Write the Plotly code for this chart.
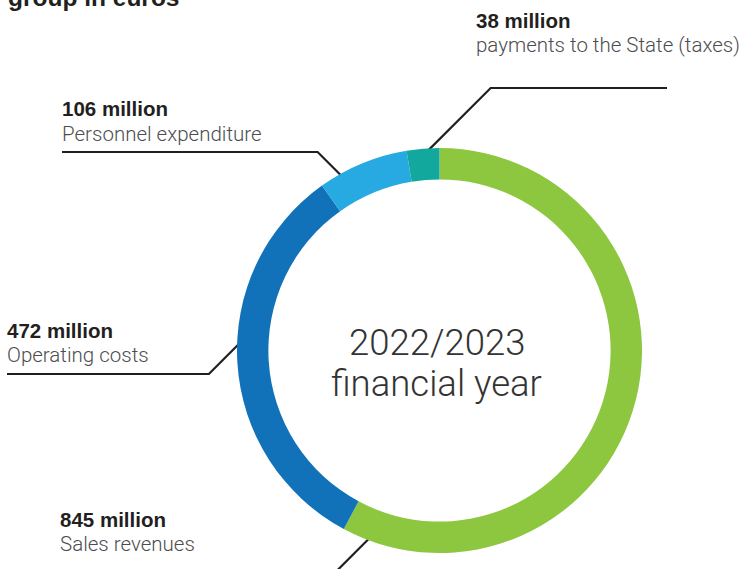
import math
import plotly.graph_objects as go

# Value distribution of the group, 2022/2023 financial year (million euros)
categories = ["Sales revenues", "Operating costs", "Personnel expenditure",
              "payments to the State (taxes)"]
amounts = [845, 472, 106, 38]
amount_labels = ["845 million", "472 million", "106 million", "38 million"]
slice_colors = ["#8DC63F", "#1172BA", "#27AAE1", "#13A89E"]
center_lines = ["2022/2023", "financial year"]
title_text = "group in euros"

# ---- canvas / ring geometry (pixels) ----
W, H = 740, 569
CX, CY, R = 439.5, 350.5, 202.5
HOLE = 0.845
R_ANCHOR = 196          # radius where the leader lines touch the ring

# label blocks: left x, baseline of amount line, baseline of caption line,
# y of the horizontal leader segment and x where that segment ends
label_layout = [
    dict(x=60, base1=527, base2=552, line_y=None, line_x=None, frac=0.96, side=-1),   # sales
    dict(x=7, base1=338, base2=363, line_y=374, line_x=7, frac=0.56, side=-1),        # operating
    dict(x=62, base1=116, base2=142, line_y=152, line_x=62, frac=0.25, side=-1),      # personnel
    dict(x=476, base1=28, base2=53, line_y=88, line_x=667, frac=0.5, side=1),         # taxes
]

BOLD_FONT = "Liberation Sans"
LIGHT_FONT = "Roboto"
INK = "#231F20"
GREY = "#4D4D4F"

fig = go.Figure()

fig.add_trace(go.Pie(
    values=amounts,
    labels=categories,
    sort=False,
    direction="clockwise",
    rotation=0,
    hole=HOLE,
    marker=dict(colors=slice_colors, line=dict(width=0)),
    textinfo="none",
    hoverinfo="label+value",
    showlegend=False,
    domain=dict(x=[(CX - R) / W, (CX + R) / W],
                y=[(H - CY - R) / H, (H - CY + R) / H]),
))

# ---- leader lines, anchored inside each slice ----
total = sum(amounts)
start = 0.0
for val, lay in zip(amounts, label_layout):
    span = 360.0 * val / total
    ang = math.radians(start + lay["frac"] * span)
    start += span
    ax = CX + R_ANCHOR * math.sin(ang)
    ay = CY - R_ANCHOR * math.cos(ang)
    if lay["line_y"] is None:
        # runs off the bottom edge at 45 degrees
        d = H + 20 - ay
        xs = [ax, ax - d]
        ys = [ay, ay + d]
    else:
        d = abs(ay - lay["line_y"])
        ex = ax + lay["side"] * d
        xs = [ax, ex, lay["line_x"]]
        ys = [ay, lay["line_y"], lay["line_y"]]
    fig.add_trace(go.Scatter(
        x=xs, y=ys, mode="lines",
        line=dict(color=INK, width=2.2),
        hoverinfo="skip", showlegend=False,
        xaxis="x", yaxis="y",
    ))


def text_at(x, baseline, text, size, color, family, weight, xanchor="left"):
    # place a single line of text so that its baseline sits at `baseline`
    fig.add_annotation(
        x=x, y=baseline + 0.212 * size, xref="x", yref="y",
        text=text, showarrow=False,
        xanchor=xanchor, yanchor="bottom",
        borderpad=0, borderwidth=0,
        font=dict(family=family, size=size, color=color, weight=weight),
    )


for amt, cat, lay in zip(amount_labels, categories, label_layout):
    text_at(lay["x"], lay["base1"], amt, 20.5, INK, BOLD_FONT, 700)
    text_at(lay["x"], lay["base2"], cat, 20.5, GREY, LIGHT_FONT, 300)

# centre caption
text_at(436.5, 356, center_lines[0], 36.5, "#333333", LIGHT_FONT, 300, xanchor="center")
text_at(436.5, 397, center_lines[1], 36.5, "#333333", LIGHT_FONT, 300, xanchor="center")

# heading (only its last line fits on the canvas)
text_at(8, 6, title_text, 24.5, INK, BOLD_FONT, 700)

fig.update_layout(
    width=W, height=H,
    margin=dict(l=0, r=0, t=0, b=0),
    paper_bgcolor="white",
    plot_bgcolor="rgba(0,0,0,0)",
    xaxis=dict(range=[0, W], visible=False, fixedrange=True, domain=[0, 1]),
    yaxis=dict(range=[H, 0], visible=False, fixedrange=True, domain=[0, 1]),
    showlegend=False,
)

fig.write_html("out.html")
